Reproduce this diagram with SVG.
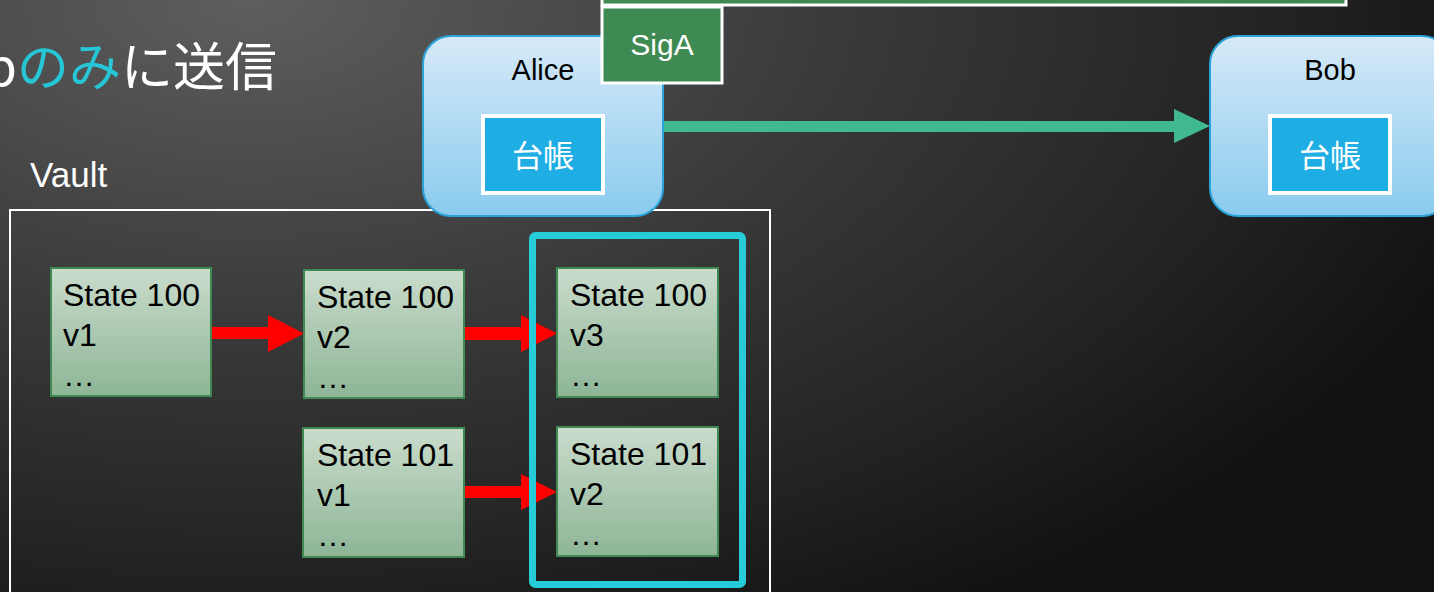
<svg xmlns="http://www.w3.org/2000/svg" width="1434" height="592" viewBox="0 0 1434 592">
  <defs>
    <radialGradient id="bg" gradientUnits="userSpaceOnUse" cx="250" cy="0" r="1300" gradientTransform="translate(250 0) scale(1 0.55) translate(-250 0)">
      <stop offset="0" stop-color="#5e5e5e"/>
      <stop offset="0.45" stop-color="#3a3a3a"/>
      <stop offset="0.8" stop-color="#222222"/>
      <stop offset="1" stop-color="#121212"/>
    </radialGradient>
    <linearGradient id="party" x1="0" y1="0" x2="0" y2="1">
      <stop offset="0" stop-color="#d6e9f8"/>
      <stop offset="1" stop-color="#8acbee"/>
    </linearGradient>
    <linearGradient id="state" x1="0" y1="0" x2="0" y2="1">
      <stop offset="0" stop-color="#cadccc"/>
      <stop offset="1" stop-color="#8db596"/>
    </linearGradient>
    <style>
      .party { fill: url(#party); stroke: #2aa4da; stroke-width: 2; }
      .ledger { fill: #1eaee4; stroke: #ffffff; stroke-width: 4; }
      .ledger-text { font-family: "Noto Sans CJK JP", sans-serif; font-size: 31px; fill: #ffffff; text-anchor: middle; }
      .party-text { font-family: "Liberation Sans", Arial, sans-serif; font-size: 29px; fill: #000000; text-anchor: middle; }
      .sig { fill: #3e8a52; stroke: #ffffff; stroke-width: 3; }
      .state { fill: url(#state); stroke: #3e8a52; stroke-width: 2; }
      .state-text { font-family: "Liberation Sans", Arial, sans-serif; font-size: 32px; fill: #000000; }
      .red-arrow { fill: #ff0000; }
    </style>
  </defs>

  <!-- backdrop -->
  <rect x="0" y="0" width="1434" height="592" fill="url(#bg)"/>

  <!-- heading (runs off the left edge) -->
  <text x="277" y="86" font-family="'Noto Sans CJK JP', sans-serif" font-size="52" fill="#ffffff" text-anchor="end">Bob<tspan fill="#26c6d6">のみ</tspan>に送信</text>

  <!-- vault container -->
  <text x="30" y="187" font-family="'Liberation Sans', Arial, sans-serif" font-size="35" fill="#ffffff">Vault</text>
  <rect x="10" y="210" width="760" height="400" fill="none" stroke="#ffffff" stroke-width="2"/>

  <!-- transaction strip at the top -->
  <g id="tx-strip">
    <rect x="602" y="-20" width="744" height="25" class="sig"/>
  </g>

  <!-- connectors -->
  <g id="connectors">
    <!-- Alice to Bob -->
    <polygon points="663,121 1174,121 1174,109 1210,126 1174,143 1174,132 663,132" fill="#40b890"/>
    <!-- state transitions -->
    <polygon class="red-arrow" points="211,327 268,327 268,315 304,333.5 268,352 268,339 211,339"/>
    <polygon class="red-arrow" points="464,327 521,327 521,315 557,333.5 521,352 521,340 464,340"/>
    <polygon class="red-arrow" points="464,486 521,486 521,474 557,492 521,510 521,498 464,498"/>
  </g>

  <!-- Alice -->
  <g id="alice">
    <rect x="423" y="36" width="240" height="180" rx="28" ry="28" class="party"/>
    <text x="543" y="80" class="party-text">Alice</text>
    <rect x="483" y="116" width="120" height="77" class="ledger"/>
    <text x="543" y="167" class="ledger-text">台帳</text>
  </g>

  <!-- signature -->
  <g id="sig-a">
    <rect x="602" y="7" width="120" height="76" class="sig"/>
    <text x="662" y="55" font-family="'Liberation Sans', Arial, sans-serif" font-size="30" fill="#ffffff" text-anchor="middle">SigA</text>
  </g>

  <!-- Bob -->
  <g id="bob">
    <rect x="1210" y="36" width="240" height="180" rx="28" ry="28" class="party"/>
    <text x="1330" y="80" class="party-text">Bob</text>
    <rect x="1270" y="116" width="120" height="77" class="ledger"/>
    <text x="1330" y="167" class="ledger-text">台帳</text>
  </g>

  <!-- current states outline -->
  <g id="current-states">
    <rect x="532.5" y="235.5" width="210" height="349" rx="3" fill="none" stroke="#26ccd8" stroke-width="7"/>
  </g>

  <!-- states -->
  <g id="state-100-v1">
    <rect x="51" y="268" width="160" height="128" class="state"/>
    <text class="state-text"><tspan x="63" y="306">State 100</tspan><tspan x="63" y="346">v1</tspan><tspan x="63" y="386">…</tspan></text>
  </g>
  <g id="state-100-v2">
    <rect x="304" y="270" width="160" height="128" class="state"/>
    <text class="state-text"><tspan x="317" y="308">State 100</tspan><tspan x="317" y="348">v2</tspan><tspan x="317" y="388">…</tspan></text>
  </g>
  <g id="state-100-v3">
    <rect x="557" y="268" width="161" height="129" class="state"/>
    <text class="state-text"><tspan x="570" y="306">State 100</tspan><tspan x="570" y="346">v3</tspan><tspan x="570" y="386">…</tspan></text>
  </g>
  <g id="state-101-v1">
    <rect x="303" y="428" width="161" height="129" class="state"/>
    <text class="state-text"><tspan x="317" y="466">State 101</tspan><tspan x="317" y="506">v1</tspan><tspan x="317" y="546">…</tspan></text>
  </g>
  <g id="state-101-v2">
    <rect x="557" y="427" width="161" height="129" class="state"/>
    <text class="state-text"><tspan x="570" y="465">State 101</tspan><tspan x="570" y="505">v2</tspan><tspan x="570" y="545">…</tspan></text>
  </g>
</svg>
